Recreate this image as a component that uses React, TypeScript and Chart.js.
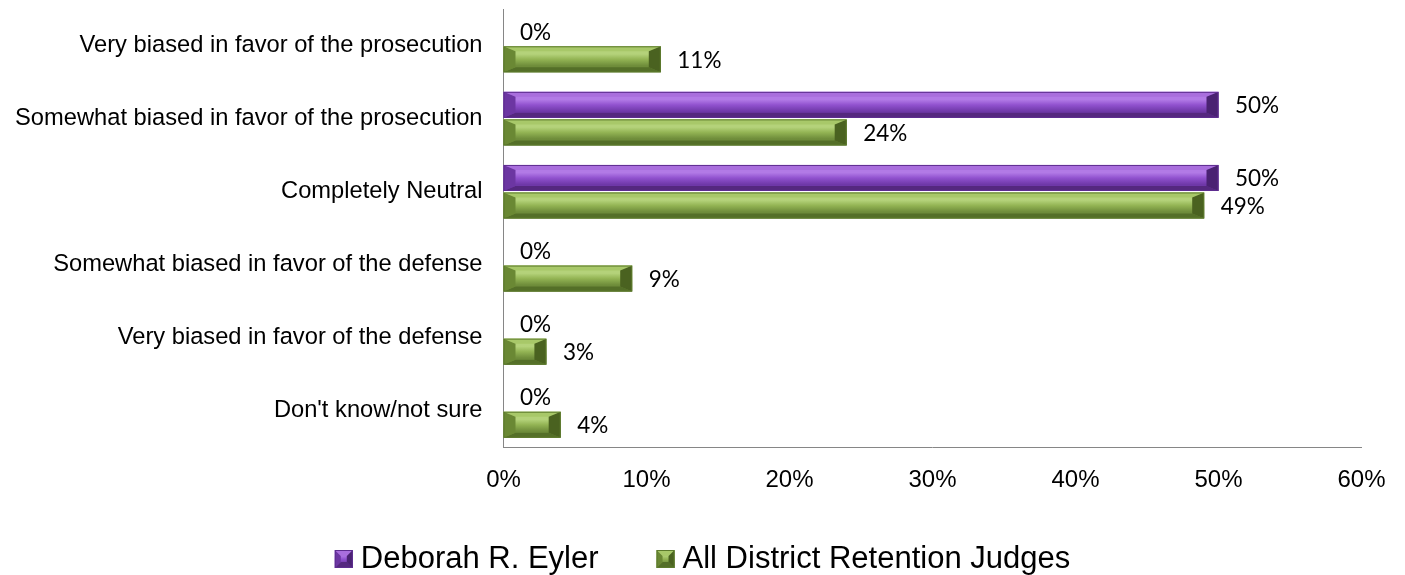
import React, { useEffect, useRef } from 'react';
import { Chart, registerables } from 'chart.js';

Chart.register(...registerables);

const categories = [
  'Very biased in favor of the prosecution',
  'Somewhat biased in favor of the prosecution',
  'Completely Neutral',
  'Somewhat biased in favor of the defense',
  'Very biased in favor of the defense',
  "Don't know/not sure",
];
const seriesNames = ['Deborah R. Eyler', 'All District Retention Judges'];
const eylerValues = [0, 50, 50, 0, 0, 0];
const allJudgesValues = [11, 24, 49, 9, 3, 4];
const xTickValues = [0, 10, 20, 30, 40, 50, 60];

type Pal = { light: string; mid: string; low: string; top: string; bottom: string; left: string; right: string; edge: string };
const purple: Pal = {
  light: '#B27AE6', mid: '#9152CF', low: '#6F38A8', top: '#A96EDD', bottom: '#55287F', left: '#6C36A2', right: '#4A2272', edge: '#5E2D90',
};
const green: Pal = {
  light: '#B4D27A', mid: '#93B454', low: '#6E8C3A', top: '#A8C869', bottom: '#546F28', left: '#6A8834', right: '#4A6220', edge: '#5C7A2C',
};
const palettes = [purple, green];

function poly(ctx: CanvasRenderingContext2D, pts: number[][], color: string) {
  ctx.beginPath();
  ctx.moveTo(pts[0][0], pts[0][1]);
  for (let i = 1; i < pts.length; i++) ctx.lineTo(pts[i][0], pts[i][1]);
  ctx.closePath();
  ctx.fillStyle = color;
  ctx.fill();
}

function bevelRect(ctx: CanvasRenderingContext2D, L: number, T: number, R: number, B: number, p: Pal, bx0: number, by0: number) {
  const w = R - L;
  const h = B - T;
  if (w < 0.5) return;
  const bx = Math.min(bx0, w / 2);
  const by = Math.min(by0, h / 2);
  const g = ctx.createLinearGradient(0, T, 0, B);
  g.addColorStop(0, p.light);
  g.addColorStop(0.3, p.light);
  g.addColorStop(0.5, p.mid);
  g.addColorStop(0.75, p.low);
  g.addColorStop(1, p.low);
  ctx.fillStyle = g;
  ctx.fillRect(L, T, w, h);
  poly(ctx, [[L, T], [R, T], [R - bx, T + by], [L + bx, T + by]], p.top);
  poly(ctx, [[L, B], [R, B], [R - bx, B - by], [L + bx, B - by]], p.bottom);
  poly(ctx, [[L, T], [L + bx, T + by], [L + bx, B - by], [L, B]], p.left);
  poly(ctx, [[R, T], [R - bx, T + by], [R - bx, B - by], [R, B]], p.right);
  ctx.strokeStyle = p.edge;
  ctx.lineWidth = 1;
  ctx.strokeRect(L + 0.5, T + 0.5, w - 1, h - 1);
}

const bevelPlugin = {
  id: 'bevelBars',
  afterDatasetsDraw(chart: any) {
    const ctx: CanvasRenderingContext2D = chart.ctx;
    ctx.save();
    chart.data.datasets.forEach((ds: any, di: number) => {
      const meta = chart.getDatasetMeta(di);
      meta.data.forEach((el: any, i: number) => {
        const L = Math.min(el.base, el.x);
        const R = Math.max(el.base, el.x);
        const T = el.y - el.height / 2;
        const B = el.y + el.height / 2;
        bevelRect(ctx, L, T, R, B, palettes[di], 12, 5);
        ctx.fillStyle = '#000';
        ctx.font = '22.5px Lato, "Noto Sans", sans-serif';
        ctx.textAlign = 'left';
        ctx.textBaseline = 'middle';
        ctx.fillText(ds.data[i] + '%', R + 16.5, el.y + 1);
      });
    });
    ctx.restore();
  },
  afterDraw(chart: any) {
    const ctx: CanvasRenderingContext2D = chart.ctx;
    ctx.save();
    ctx.font = '31px "Liberation Sans", Arial, sans-serif';
    const box = 18;
    const textGap = 8;
    const itemGap = 58;
    const widths = chart.data.datasets.map((d: any) => box + textGap + ctx.measureText(d.label).width);
    const total = widths.reduce((a: number, b: number) => a + b, 0) + itemGap * (widths.length - 1);
    let x = (chart.width - total) / 2;
    const cy = 559;
    chart.data.datasets.forEach((d: any, i: number) => {
      bevelRect(ctx, x, cy - box / 2, x + box, cy + box / 2, palettes[i], 6, 6);
      ctx.fillStyle = '#000';
      ctx.textAlign = 'left';
      ctx.textBaseline = 'middle';
      ctx.fillText(d.label, x + box + textGap, cy);
      x += widths[i] + itemGap;
    });
    ctx.restore();
  },
};

export default function App() {
  const ref = useRef<HTMLCanvasElement>(null);
  useEffect(() => {
    if (!ref.current) return;
    const chart = new Chart(ref.current, {
      type: 'bar',
      data: {
        labels: categories,
        datasets: [
          { label: seriesNames[0], data: eylerValues, backgroundColor: 'rgba(0,0,0,0)', borderWidth: 0, categoryPercentage: 0.753, barPercentage: 0.945 },
          { label: seriesNames[1], data: allJudgesValues, backgroundColor: 'rgba(0,0,0,0)', borderWidth: 0, categoryPercentage: 0.753, barPercentage: 0.945 },
        ],
      },
      options: {
        indexAxis: 'y',
        responsive: false,
        animation: false,
        layout: { padding: { top: 9, right: 43.5, bottom: 85, left: 0 } },
        plugins: { legend: { display: false }, tooltip: { enabled: false } },
        scales: {
          y: {
            grid: { display: false, drawTicks: false },
            border: { display: true, color: '#868686', width: 1 },
            ticks: { color: '#000', padding: 21, font: { family: '"Liberation Sans", Arial, sans-serif', size: 23.7 } },
            afterFit: (s: any) => { s.width = 503.5; s.paddingTop = 0; s.paddingBottom = 0; },
          },
          x: {
            min: 0,
            max: 60,
            afterBuildTicks: (s: any) => { s.ticks = xTickValues.map((v) => ({ value: v })); },
            grid: { display: false, drawTicks: false },
            border: { display: true, color: '#868686', width: 1 },
            ticks: { color: '#000', padding: 18, font: { family: '"Liberation Sans", Arial, sans-serif', size: 24 }, callback: (v: any) => v + '%' },
            afterFit: (s: any) => { s.height = 42.5; s.paddingLeft = 0; s.paddingRight = 0; },
          },
        },
      },
      plugins: [bevelPlugin],
    } as any);
    return () => chart.destroy();
  }, []);
  return (
    <div style={{ position: 'absolute', left: 0, top: 0, width: 1405, height: 575, background: '#fff' }}>
      <canvas ref={ref} width={1405} height={575} style={{ display: 'block' }} />
    </div>
  );
}
